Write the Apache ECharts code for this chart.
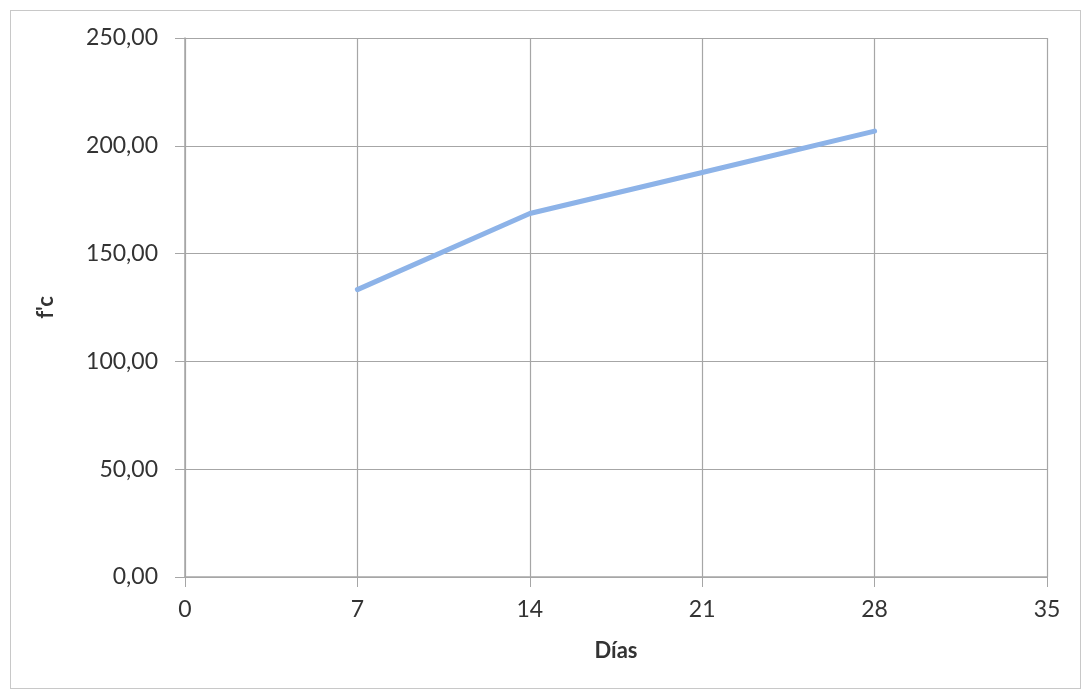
<!DOCTYPE html>
<html>
<head>
<meta charset="utf-8">
<script src="https://cdn.jsdelivr.net/npm/echarts@6/dist/echarts.min.js"></script>
<style>
  html, body { margin: 0; padding: 0; background: #fff; }
  #frame { position: absolute; left: 10px; top: 10px; width: 1071px; height: 679px; border: 1px solid #c8c8c8; box-sizing: border-box; }
  #chart { position: absolute; left: 0; top: 0; width: 1085px; height: 693px; }
</style>
</head>
<body>
<div id="frame"></div>
<div id="chart"></div>
<script>
// Compressive strength development over curing age
const dias = [7, 14, 21, 28];
const fc = [133.3, 168.6, 187.6, 206.8];

const xTicks = { min: 0, max: 35, interval: 7 };
const yTicks = { min: 0, max: 250, interval: 50 };

const font = 'Lato, "Open Sans", "Liberation Sans", sans-serif';
const gridColor = '#a6a6a6';

const chart = echarts.init(document.getElementById('chart'), null, { renderer: 'canvas' });
chart.setOption({
  backgroundColor: 'transparent',
  animation: false,
  grid: { left: 185, right: 38, top: 38, bottom: 116, containLabel: false },
  xAxis: {
    type: 'value',
    min: xTicks.min, max: xTicks.max, interval: xTicks.interval,
    name: 'Días',
    nameLocation: 'middle',
    nameGap: 63,
    nameTextStyle: { fontFamily: font, fontSize: 22, fontWeight: 'bold', color: '#333' },
    axisLine: { show: true, lineStyle: { color: gridColor, width: 1.5 } },
    axisTick: { show: true, length: 10, lineStyle: { color: gridColor } },
    axisLabel: { fontFamily: font, fontSize: 23, color: '#333', margin: 21 },
    splitLine: { show: true, lineStyle: { color: gridColor, width: 1.2 } }
  },
  yAxis: {
    type: 'value',
    min: yTicks.min, max: yTicks.max, interval: yTicks.interval,
    name: "f'c",
    nameLocation: 'middle',
    nameRotate: 90,
    nameGap: 128,
    nameTextStyle: { fontFamily: font, fontSize: 22, fontWeight: 'bold', color: '#333' },
    axisLine: { show: true, lineStyle: { color: gridColor, width: 1.5 } },
    axisTick: { show: true, length: 10, lineStyle: { color: gridColor } },
    axisLabel: {
      fontFamily: font, fontSize: 23, color: '#333', margin: 27,
      formatter: v => v.toFixed(2).replace('.', ',')
    },
    splitLine: { show: true, lineStyle: { color: gridColor, width: 1.2 } }
  },
  series: [{
    type: 'line',
    data: dias.map((d, i) => [d, fc[i]]),
    showSymbol: false,
    symbol: 'none',
    lineStyle: { color: '#8db3e8', width: 5, cap: 'round', join: 'round' }
  }]
});
</script>
</body>
</html>
